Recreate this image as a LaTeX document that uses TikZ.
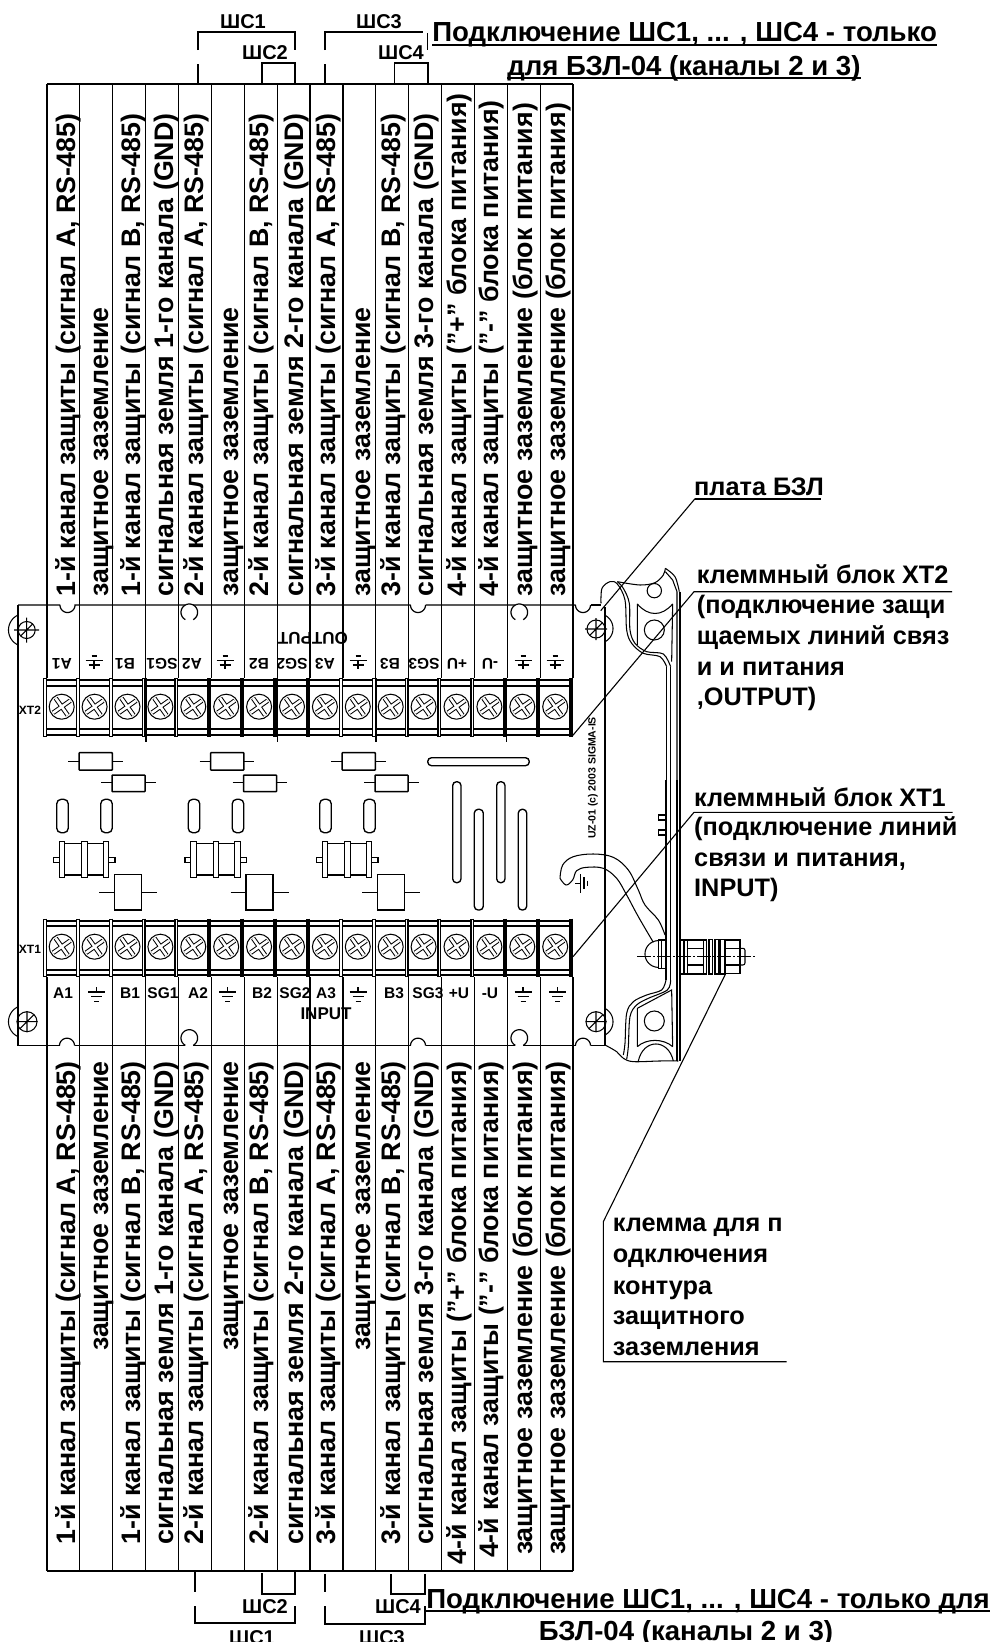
\documentclass[tikz,border=0pt]{standalone}
\usepackage{fontspec}
\setmainfont{Liberation Sans}
\usetikzlibrary{calc}
\newcommand\myarc[5]{plot[domain=#4:#5,samples=41,variable=\t] ({#1+#3*cos(\t)},{#2+#3*sin(\t)})}
\newcommand\coltxt[3]{\node[coltop] (t#1) at (#2,597) {#3}; \node[colbot] (b#1) at (#2,1061) {#3};}
\newcommand\mount[4]{% cx cy r overshoot
  \draw[thinline] (#1,#2) circle (#3);
  \draw[thinline] (#1-#4,#2)--(#1+#4,#2) (#1,#2-#4)--(#1,#2+#4) (#1-#3*.7,#2+#3*.7)--(#1+#3*.7,#2-#3*.7);}
\newcommand\screw[2]{%
  \draw[thinline] (#1,#2) circle (12.5);
  \draw[line width=4.6pt] (#1-8.5,#2+6)--(#1+8.5,#2-6) (#1-6,#2-8.5)--(#1+6,#2+8.5);
  \draw[line width=2.6pt,white] (#1-8.5,#2+6)--(#1+8.5,#2-6) (#1-6,#2-8.5)--(#1+6,#2+8.5);}
\newcommand\gndup[2]{%
  \draw[line width=1.4pt] (#1,#2-1.5)--(#1,#2+7) (#1-8.5,#2-1.5)--(#1+8.5,#2-1.5) (#1-5.5,#2+3)--(#1+5.5,#2+3) (#1-2.5,#2-6)--(#1+2.5,#2-6);}
\newcommand\gnddown[2]{%
  \draw[line width=1.4pt] (#1,#2-9)--(#1,#2-4) (#1-8.5,#2-4)--(#1+8.5,#2-4) (#1-5.5,#2+.7)--(#1+5.5,#2+.7) (#1-2.5,#2+5.7)--(#1+2.5,#2+5.7);}
\newcommand\block[5]{% y1 y2 y3 y4 screw y
  \draw[hbar] (45,#1)--(572,#1) (45,#2)--(572,#2) (45,#3)--(572,#3) (45,#4)--(572,#4);
  \foreach \i in {0,...,15} {\pgfmathsetmacro\sx{61.7+32.9*\i}\screw{\sx}{#5}}
  \foreach \i in {0,1,2,3,4,9,10,11,12,13} {\pgfmathsetmacro\sx{45+32.87*\i}
    \draw[line width=4pt] (\sx,#1-2)--(\sx,#4+2);
    \draw[line width=1.6pt,white] (\sx,#1-1)--(\sx,#4+1);}
  \foreach \i in {5,6,7,8,14,15,16} {\pgfmathsetmacro\sx{45+32.87*\i}
    \draw[line width=4pt] (\sx,#1-2)--(\sx,#4+2);}}
\tikzset{
  thinline/.style={line width=1.05pt},
  rule/.style={line width=1.2pt},
  hbar/.style={line width=2pt},
  coltop/.style={rotate=90,anchor=base west,inner sep=0pt,font=\bfseries\fontsize{26.8}{26.8}\selectfont},
  colbot/.style={rotate=90,anchor=base east,inner sep=0pt,font=\bfseries\fontsize{26.8}{26.8}\selectfont},
  lab/.style={anchor=base,inner sep=0pt,font=\bfseries\fontsize{15.5}{15.5}\selectfont},
  labr/.style={lab,rotate=180},
  note/.style={anchor=base west,inner sep=0pt,font=\bfseries\fontsize{25.3}{25.3}\selectfont},
  head/.style={anchor=base,inner sep=0pt,font=\bfseries\fontsize{27.6}{27.6}\selectfont},
  shc/.style={anchor=base,inner sep=0pt,font=\bfseries\fontsize{20}{20}\selectfont},
  oval/.style={line width=1.35pt,rounded corners=4.5pt},
  comp/.style={line width=1.5pt},
  zoomed/.style={x=0.3333pt,y=-0.3333pt},
}
\begin{document}
\begin{tikzpicture}[x=1pt,y=-1pt,line cap=butt]
\useasboundingbox (0,0) rectangle (991,1642);
\fill[white] (0,0) rectangle (991,1642);
% --- column tables
\foreach \i in {0,...,16} {\pgfmathsetmacro\cx{47+32.88*\i}
  \draw[rule] (\cx,84)--(\cx,678);
  \draw[rule] (\cx,977)--(\cx,1571);}
\draw[rule] (47,84)--(573,84);
\draw[rule] (47,1571)--(573,1571);
\foreach \cx in {146,277.6,376,506.7} {\draw[rule] (\cx,678)--(\cx,742);}
% --- board outline
\draw[rule] (18,605)--(60,605) \myarc{67.5}{605}{7.5}{180}{0} --(75,605)--(185.4,605);
\draw[rule] \myarc{189.3}{612.3}{8.3}{-242}{62};
\draw[rule] (193.2,605)--(410.5,605) \myarc{418}{605}{7.5}{180}{0};
\draw[rule] (425.5,605)--(515.4,605) (523.2,605)--(575.5,605) \myarc{583}{605}{7.5}{180}{0};
\draw[rule] (590.5,605)--(601,605);
\draw[rule] (18,605)--(18,1045.7)--(60,1045.7);
\draw[rule] \myarc{67}{1045.7}{7.5}{180}{360};
\draw[rule] (74.5,1045.7)--(185.4,1045.7) (193.2,1045.7)--(410.5,1045.7);
\draw[rule] \myarc{189.3}{1038}{8.3}{-242}{62};
\draw[rule] \myarc{418}{1045.7}{7.5}{180}{360};
\draw[rule] (425.5,1045.7)--(515.4,1045.7) (523.2,1045.7)--(575.5,1045.7);
\draw[rule] \myarc{519.3}{1038}{8.3}{-242}{62};
\draw[rule] \myarc{583}{1045.7}{7.5}{180}{360};
\draw[rule] (590.5,1045.7)--(605,1045.7);
\draw[rule] \myarc{519.3}{612.3}{8.3}{-242}{62};
\draw[rule] (605,607)--(605,1045.7);
% --- mounting holes
\mount{26.7}{630}{8.5}{12.5}
\mount{27}{1021.7}{10}{10.5}
\mount{596}{629}{9}{11}
\mount{596}{1021.7}{10}{10.5}
\draw[thinline] \myarc{25}{630}{16.5}{115}{245};
\draw[thinline] \myarc{25}{1021.7}{16.5}{115}{245};
\draw[thinline] \myarc{598}{628.5}{15}{-65}{65};
\draw[thinline] \myarc{598}{1021.7}{15}{-65}{65};
% --- components, three channels
\foreach \d in {0,131.5,263} {
 \begin{scope}[shift={(\d,0)}]
  \draw[comp,rounded corners=.6pt] (79,752.7) rectangle (112.3,770);
  \draw[comp] (68,761.7)--(79,761.7) (112.3,761.7)--(122.7,761.7);
  \draw[comp,rounded corners=.6pt] (112,775) rectangle (145,791.7);
  \draw[comp] (101,782.3)--(112,782.3) (145,782.3)--(155.7,782.3);
  \draw[oval] (56.7,799.3) rectangle (68.3,832.7);
  \draw[oval] (100.7,799.3) rectangle (112.3,832.7);
  \foreach \bb in {59.3,81.7,103.3} {\draw[line width=1.2pt] (\bb,841.7) rectangle (\bb+5.5,877.7);}
  \draw[comp] (64.8,843.5)--(81.7,843.5) (87.2,843.5)--(103.3,843.5) (64.8,875)--(81.7,875) (87.2,875)--(103.3,875);
  \draw[line width=1.2pt] (59.3,857.5) rectangle (53.5,862.5) (108.8,857.5) rectangle (115,862.5);
  \draw[comp] (114.3,874.3) rectangle (141.7,910);
  \draw[comp] (99,892.7)--(114.3,892.7) (141.7,892.7)--(157.3,892.7);
 \end{scope}}
% --- slots
\draw[oval,rounded corners=3.8pt] (427.7,757.7) rectangle (529.3,765.7);
\draw[oval,rounded corners=3.8pt] (452.7,781.7) rectangle (461,882.7);
\draw[oval,rounded corners=3.8pt] (474.3,809.3) rectangle (483.3,910);
\draw[oval,rounded corners=3.8pt] (496.7,781.7) rectangle (505,882.7);
\draw[oval,rounded corners=3.8pt] (518.3,809.3) rectangle (526.7,910);
\node[inner sep=0pt,rotate=90,font=\bfseries\fontsize{10.5}{10.5}\selectfont] (uz) at (593,778) {UZ-01 (c) 2003 SIGMA-IS};
% --- terminal blocks
\block{680}{686}{729}{735}{706.7}
\block{920.7}{926}{970}{975}{946.7}
\node[lab,font=\bfseries\fontsize{12}{12}\selectfont] (xt2) at (30,714) {XT2};
\node[lab,font=\bfseries\fontsize{12}{12}\selectfont] (xt1) at (30,953) {XT1};
% --- terminal labels, top (upside down)
\foreach \nm/\lx/\lt in {a/62/A1,b/125/B1,c/162/SG1,d/192/A2,e/259/B2,f/292/SG2,g/325/A3,h/390/B3,i/424/SG3,j/457/+U,k/490/-U}
  {\node[labr] (u\nm) at (\lx,658) {\lt};}
\node[labr,font=\bfseries\fontsize{17}{17}\selectfont] (outp) at (313,632) {OUTPUT};
\foreach \gx in {94,225,358,523,555} {\gndup{\gx}{662}}
% --- terminal labels, bottom
\foreach \nm/\lx/\lt in {a/63/A1,b/130/B1,c/163/SG1,d/198/A2,e/262/B2,f/295/SG2,g/326/A3,h/394/B3,i/428/SG3,j/459/+U,k/490/-U}
  {\node[lab] (l\nm) at (\lx,998) {\lt};}
\node[lab,font=\bfseries\fontsize{17}{17}\selectfont] (inp) at (326,1019) {INPUT};
\foreach \gx in {96.7,227.7,358,523,557.7} {\gnddown{\gx}{996}}
% --- bracket upper (zoom coordinates)
\begin{scope}[shift={(560,460)},zoomed]
  \draw[thinline] plot[smooth,tension=.55] coordinates {(123,430) (126,385) (150,365) (172,372) (195,420) (200,510) (215,550) (250,580) (300,590) (320,620)};
  \draw[thinline] plot[smooth,tension=.55] coordinates {(172,365) (190,385) (208,430) (210,510) (225,550) (260,575) (310,582) (332,620)};
  \draw[thinline] plot[smooth,tension=.55] coordinates {(172,365) (240,375) (285,368) (310,345) (316,325)};
  \draw[thinline] plot[smooth,tension=.55] coordinates {(316,325) (345,350) (358,395)};
  \draw[thinline] (320,620)--(320,960) (332,620)--(332,960);
  \draw[thinline] (316,335)--(338,360)--(351,395)--(351,960);
  \draw[line width=1.8pt] (359,395)--(359,960);
  \draw[thinline] (232,432) .. controls (265,470) and (305,470) .. (338,432);
  \draw[thinline] (232,432)--(232,555) (338,432)--(335,605);
  \draw[thinline] (283,392) circle (21.5);
  \draw[thinline] (283,510) circle (30);
\end{scope}
% --- bracket lower and wire (zoom coordinates)
\begin{scope}[shift={(560,780)},zoomed]
  \draw[thinline] (318,-1)--(318,600) (332,-1)--(332,600) (351,-1)--(351,843);
  \draw[line width=1.8pt] (359,-1)--(359,843);
  \draw[thinline] plot[smooth,tension=.55] coordinates {(318,600) (305,630) (260,645) (220,665) (200,700) (195,790) (190,825)};
  \draw[thinline] plot[smooth,tension=.55] coordinates {(332,600) (322,630) (265,655) (230,675) (210,710) (205,800) (200,838)};
  \draw[thinline] (232,685)--(335,630)--(338,800) (232,685)--(232,800);
  \draw[thinline] (232,800) .. controls (260,775) and (310,775) .. (338,800);
  \draw[thinline] (235,843) .. controls (250,775) and (325,775) .. (340,843);
  \draw[thinline] plot[smooth,tension=.55] coordinates {(135,795) (170,815) (190,835) (220,845) (300,843) (355,843)};
  \draw[thinline] (283,723) circle (30);
  \draw[thinline] (295,105) rectangle (318,120) (295,150) rectangle (318,165);
  \draw[thinline] plot[smooth,tension=.6] coordinates {(0,295) (8,255) (40,230) (100,222) (160,232) (205,270) (235,330) (255,375) (295,420) (315,465)};
  \draw[thinline] plot[smooth,tension=.6] coordinates {(0,295) (18,315) (38,300) (50,272) (80,262) (130,265) (170,295) (200,345) (235,410) (280,487)};
  \draw[thinline] (45,310)--(62,310) (62,283)--(62,338) (72,292)--(72,328) (82,302)--(82,318);
  \draw[thinline] \myarc{295}{522}{40}{90}{270};
  \draw[thinline] (295,480) rectangle (318,566) (305,480)--(305,566);
  \draw[line width=1.5pt] (362,480) rectangle (382,582);
  \draw[thinline] (372,480)--(372,582) (382,480) rectangle (430,582) (382,505)--(430,505) (382,555)--(430,555);
  \draw[thinline] (430,480) rectangle (440,582) (447,478) rectangle (457,582) (465,478) rectangle (475,582) (480,478) rectangle (495,582);
  \draw[thinline] (495,480) rectangle (540,580) (495,505)--(540,505) (495,555)--(540,555);
  \draw[thinline,rounded corners=2pt] (540,505)--(555,505)--(555,555)--(540,555);
  \draw[line width=.7pt,dash pattern=on 14pt off 2pt on 2pt off 2pt] (232,530)--(585,530);
\end{scope}
% --- column captions
\coltxt{1}{75}{1-й канал защиты (сигнал А, RS-485)}
\coltxt{2}{108}{защитное заземление}
\coltxt{3}{140}{1-й канал защиты (сигнал В, RS-485)}
\coltxt{4}{173}{сигнальная земля 1-го канала (GND)}
\coltxt{5}{203}{2-й канал защиты (сигнал А, RS-485)}
\coltxt{6}{238}{защитное заземление}
\coltxt{7}{268}{2-й канал защиты (сигнал В, RS-485)}
\coltxt{8}{303}{сигнальная земля 2-го канала (GND)}
\coltxt{9}{335}{3-й канал защиты (сигнал А, RS-485)}
\coltxt{10}{370}{защитное заземление}
\coltxt{11}{400}{3-й канал защиты (сигнал В, RS-485)}
\coltxt{12}{433}{сигнальная земля 3-го канала (GND)}
\coltxt{13}{466}{4-й канал защиты ("+" блока питания)}
\coltxt{14}{498}{4-й канал защиты ("-" блока питания)}
\coltxt{15}{532}{защитное заземление (блок питания)}
\coltxt{16}{565}{защитное заземление (блок питания)}
% --- upper brackets
\draw[line width=1.4pt] (198,50)--(198,32)--(295,32)--(295,50);
\draw[line width=1.4pt] (198,64)--(198,84) (262,84)--(262,63)--(295,63)--(295,84);
\draw[line width=1.4pt] (325,50)--(325,32)--(423,32) (427.7,33)--(427.7,50);
\draw[line width=1.4pt] (325,64)--(325,84) (394.7,84)--(394.7,63)--(428,63)--(428,84);
\node[shc] (s1) at (243,28) {ШС1};
\node[shc] (s2) at (265,59) {ШС2};
\node[shc] (s3) at (379,28) {ШС3};
\node[shc] (s4) at (401,59) {ШС4};
% --- lower brackets
\draw[line width=1.4pt] (195,1572)--(195,1592) (195,1606)--(195,1623)--(295,1623)--(295,1606);
\draw[line width=1.4pt] (262,1573)--(262,1594)--(295,1594)--(295,1572);
\draw[line width=1.4pt] (325,1574)--(325,1592) (325,1606)--(325,1624)--(425,1624)--(425,1606);
\draw[line width=1.4pt] (391,1574)--(391,1594)--(425,1594)--(425,1574);
\node[shc] (s2b) at (265,1613.5) {ШС2};
\node[shc] (s4b) at (398,1613.5) {ШС4};
\node[shc] (s1b) at (252,1644) {ШС1};
\node[shc] (s3b) at (382,1644) {ШС3};
% --- headings
\node[head] (h1) at (684.6,41.7) {Подключение ШС1, ... , ШС4 - только};
\node[head] (h2) at (684,75) {для БЗЛ-04 (каналы 2 и 3)};
\draw[line width=1.8pt] (h1.south west |- 0,44.8)--(h1.south east |- 0,44.8);
\draw[line width=1.8pt] (h2.south west |- 0,78)--(h2.south east |- 0,78);
\node[head] (h3) at (708,1608) {Подключение ШС1, ... , ШС4 - только для};
\draw[line width=1.8pt] (h3.south west |- 0,1611)--(h3.south east |- 0,1611);
\node[head] (h4) at (686,1640) {БЗЛ-04 (каналы 2 и 3)};
% --- notes and leaders
\node[note] (n1) at (694,495) {плата БЗЛ};
\coordinate (n1a) at (695,498.7);
\coordinate (n1b) at (821,498.7);
\coordinate (n1c) at (600.7,610.7);
\draw[line width=1.1pt] (n1c)--(n1a);
\draw[line width=1.8pt] (n1a)--(n1b);
\node[note] (n2) at (696.7,583.3) {клеммный блок XT2};
\node[note] (n2b) at (696.7,613.5) {(подключение защи};
\node[note] (n2c) at (696.7,644) {щаемых линий связ};
\node[note] (n2d) at (696.7,675) {и и питания};
\node[note] (n2e) at (696.7,705) {,OUTPUT)};
\coordinate (n2a) at (694,591.7);
\coordinate (n2r) at (952,591.7);
\coordinate (n2t) at (571.7,736.7);
\draw[line width=1.1pt] (n2t)--(n2a)--(n2r);
\node[note] (n3) at (694,806) {клеммный блок XT1};
\node[note] (n3b) at (694,835.7) {(подключение линий};
\node[note] (n3c) at (694,866.7) {связи и питания,};
\node[note] (n3d) at (694,896) {INPUT)};
\coordinate (n3a) at (694,812.3);
\coordinate (n3r) at (952.7,812.3);
\coordinate (n3t) at (573,956.7);
\draw[line width=1.1pt] (n3t)--(n3a)--(n3r);
\node[note] (n4) at (612.7,1231.7) {клемма для п};
\node[note] (n4b) at (612.7,1262.3) {одключения};
\node[note] (n4c) at (612.7,1294) {контура};
\node[note] (n4d) at (612.7,1324) {защитного};
\node[note] (n4e) at (612.7,1355) {заземления};
\coordinate (n4t) at (725,975);
\coordinate (n4a) at (603.3,1221.7);
\coordinate (n4b2) at (603.3,1361.7);
\coordinate (n4r) at (786.7,1361.7);
\draw[line width=1.1pt] (n4t)--(n4a)--(n4b2)--(n4r);
\end{tikzpicture}
\end{document}
